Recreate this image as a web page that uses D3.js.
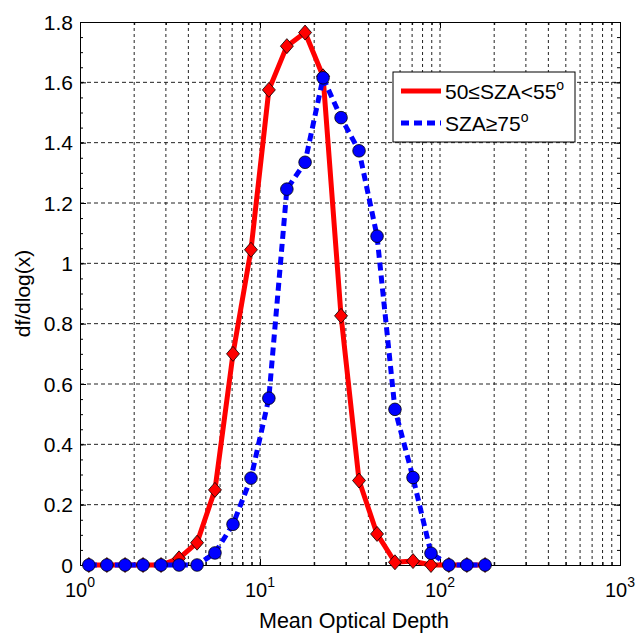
<!DOCTYPE html>
<html>
<head>
<meta charset="utf-8">
<script src="https://cdn.jsdelivr.net/npm/d3@7"></script>
<style>
  body { margin: 0; background: #fff; }
  text { font-family: Arial, "Liberation Sans", sans-serif; fill: #000; }
</style>
</head>
<body>
<svg width="638" height="633"></svg>
<script>
// bin centres (log spaced) and the two curves
var binCenters = [1.12, 1.41, 1.78, 2.24, 2.82, 3.55, 4.47, 5.62, 7.08, 8.91,
                  11.2, 14.1, 17.8, 22.4, 28.2, 35.5, 44.7, 56.2, 70.8, 89.1,
                  112, 141, 178];
var sza50 = [0, 0, 0, 0, 0, 0.022, 0.074, 0.249, 0.70, 1.045,
             1.575, 1.72, 1.765, 1.62, 0.826, 0.28, 0.103, 0.009, 0.013, 0,
             0, 0, 0];
var sza75 = [0, 0, 0, 0, 0, 0, 0, 0.04, 0.135, 0.288,
             0.553, 1.246, 1.335, 1.615, 1.483, 1.373, 1.09, 0.516, 0.29, 0.039,
             0, 0, 0];
var xMajor = [1, 10, 100, 1000];
var xExp = ["0", "1", "2", "3"];
var yTicks = [0, 0.2, 0.4, 0.6, 0.8, 1, 1.2, 1.4, 1.6, 1.8];
var legendLabels = ["50\u2264SZA<55", "SZA\u226575"];

var svg = d3.select("svg"),
    margin = {top: 22, right: 18, bottom: 68, left: 80},
    width = 638 - margin.left - margin.right,
    height = 633 - margin.top - margin.bottom;

var x = d3.scaleLog().domain([1, 1000]).range([0, width]);
var y = d3.scaleLinear().domain([0, 1.8]).range([height, 0]);

var g = svg.append("g").attr("transform", "translate(" + margin.left + "," + margin.top + ")");

// minor log ticks 2..9 in each decade
var xMinor = [];
xMajor.slice(0, 3).forEach(function(d) {
  for (var k = 2; k <= 9; k++) xMinor.push(d * k);
});
var yMinor = d3.range(0, 1.8001, 0.05);

// grid
g.append("g").selectAll("line")
  .data(xMajor.slice(1, 3).concat(xMinor))
  .enter().append("line")
    .attr("x1", function(d) { return x(d); })
    .attr("x2", function(d) { return x(d); })
    .attr("y1", 0).attr("y2", height)
    .attr("stroke", "#222").attr("stroke-width", 1)
    .attr("stroke-dasharray", "3,3");

g.append("g").selectAll("line")
  .data(yTicks.slice(1, 9))
  .enter().append("line")
    .attr("y1", function(d) { return y(d); })
    .attr("y2", function(d) { return y(d); })
    .attr("x1", 0).attr("x2", width)
    .attr("stroke", "#222").attr("stroke-width", 1)
    .attr("stroke-dasharray", "4,3");

// axes drawn inward on all four sides
g.append("g").attr("transform", "translate(0," + height + ")")
  .call(d3.axisBottom(x).tickValues(xMinor).tickSize(-3).tickFormat(""));
g.append("g").attr("transform", "translate(0," + height + ")")
  .call(d3.axisBottom(x).tickValues(xMajor).tickSize(-6).tickFormat(""));
g.append("g")
  .call(d3.axisTop(x).tickValues(xMinor).tickSize(-3).tickFormat(""));
g.append("g")
  .call(d3.axisTop(x).tickValues(xMajor).tickSize(-6).tickFormat(""));

g.append("g").call(d3.axisLeft(y).tickValues(yMinor).tickSize(-3).tickFormat(""));
g.append("g").call(d3.axisLeft(y).tickValues(yTicks).tickSize(-6).tickFormat(""));
g.append("g").attr("transform", "translate(" + width + ",0)")
  .call(d3.axisRight(y).tickValues(yMinor).tickSize(-3).tickFormat(""));
g.append("g").attr("transform", "translate(" + width + ",0)")
  .call(d3.axisRight(y).tickValues(yTicks).tickSize(-6).tickFormat(""));

g.selectAll(".domain").attr("stroke", "#000");
g.selectAll(".tick line").attr("stroke", "#000");

// tick labels
g.selectAll(".ylab").data(yTicks).enter().append("text")
  .attr("class", "ylab")
  .attr("x", -7)
  .attr("y", function(d) { return y(d); })
  .attr("dy", "0.36em")
  .attr("text-anchor", "end")
  .style("font-size", "21px")
  .text(function(d) { return d3.format("~g")(d); });

var xl = g.selectAll(".xlab").data(xMajor).enter().append("text")
  .attr("class", "xlab")
  .attr("x", function(d) { return x(d); })
  .attr("y", height + 32)
  .attr("text-anchor", "middle")
  .style("font-size", "20px");
xl.append("tspan").text("10");
xl.append("tspan").attr("dy", -10).style("font-size", "14px")
  .text(function(d, i) { return xExp[i]; });

// axis titles
svg.append("text")
  .attr("x", margin.left + width / 2 + 4)
  .attr("y", 628)
  .attr("text-anchor", "middle")
  .style("font-size", "21.5px")
  .text("Mean Optical Depth");

svg.append("text")
  .attr("transform", "translate(30," + (margin.top + height / 2) + ") rotate(-90)")
  .attr("text-anchor", "middle")
  .style("font-size", "21px")
  .text("df/dlog(x)");

// curves
var line = d3.line()
  .x(function(d) { return x(d[0]); })
  .y(function(d) { return y(d[1]); });

var red = d3.zip(binCenters, sza50);
var blue = d3.zip(binCenters, sza75);

g.append("path").datum(red)
  .attr("d", line)
  .attr("fill", "none").attr("stroke", "#ff0000")
  .attr("stroke-width", 5).attr("stroke-linejoin", "round");

g.selectAll(".dia").data(red).enter().append("path")
  .attr("class", "dia")
  .attr("transform", function(d) { return "translate(" + x(d[0]) + "," + y(d[1]) + ")"; })
  .attr("d", "M0,-7.5L6.5,0L0,7.5L-6.5,0Z")
  .attr("fill", "#ff0000").attr("stroke", "#000").attr("stroke-width", 0.8);

g.append("path").datum(blue)
  .attr("d", line)
  .attr("fill", "none").attr("stroke", "#0000ff")
  .attr("stroke-width", 5).attr("stroke-dasharray", "8,5");

g.selectAll(".dot").data(blue).enter().append("circle")
  .attr("class", "dot")
  .attr("cx", function(d) { return x(d[0]); })
  .attr("cy", function(d) { return y(d[1]); })
  .attr("r", 6.3)
  .attr("fill", "#0000ff").attr("stroke", "#000").attr("stroke-width", 0.8);

// legend
var lg = svg.append("g").attr("transform", "translate(393,72)");
lg.append("rect")
  .attr("width", 182).attr("height", 70)
  .attr("fill", "#fff").attr("stroke", "#000").attr("stroke-width", 1);

var colors = ["#ff0000", "#0000ff"];
var dashes = [null, "8,5"];
legendLabels.forEach(function(lab, i) {
  var yy = 19 + i * 32;
  lg.append("line")
    .attr("x1", 8).attr("x2", 48).attr("y1", yy).attr("y2", yy)
    .attr("stroke", colors[i]).attr("stroke-width", 5)
    .attr("stroke-dasharray", dashes[i]);
  var t = lg.append("text")
    .attr("x", 52).attr("y", yy + 8)
    .style("font-size", "21px");
  t.append("tspan").text(lab);
  t.append("tspan").attr("dy", -9).style("font-size", "14px").text("o");
});
</script>
</body>
</html>
